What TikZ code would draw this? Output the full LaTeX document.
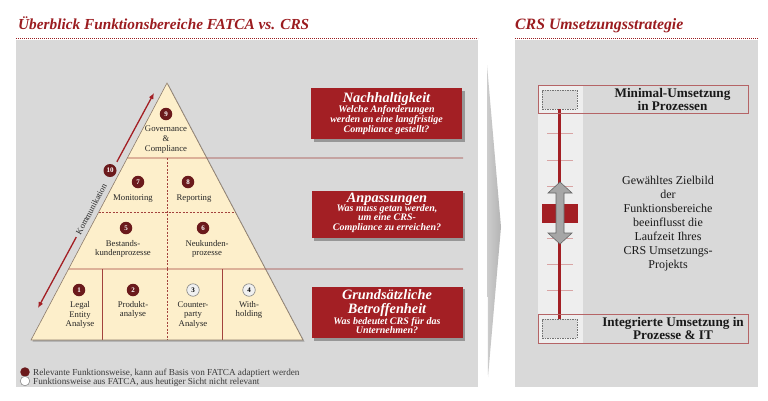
\documentclass[tikz,border=0pt]{standalone}
\usepackage{fontspec}
\setmainfont{Liberation Serif}
\usetikzlibrary{shadows,calc,arrows.meta}
\definecolor{pwcred}{HTML}{A31F24}
\definecolor{titlered}{HTML}{9B1C20}
\definecolor{panelgray}{HTML}{D9D9D9}
\definecolor{cream}{HTML}{FDEFCB}
\definecolor{maroon}{HTML}{6B1A1C}
\definecolor{tierline}{HTML}{A3423D}
\definecolor{stripgray}{HTML}{EEEEEE}
\definecolor{tickpink}{HTML}{D8A4A4}
\definecolor{pyredge}{HTML}{8C7B6B}
\definecolor{legendtext}{HTML}{3A3A3A}
\definecolor{boxedge}{HTML}{B56466}
\definecolor{chevL}{HTML}{CDCDCD}
\definecolor{chevR}{HTML}{B4B4B4}
\begin{document}
\begin{tikzpicture}[x=1pt,y=-1pt,
  num/.style={circle, fill=maroon, text=white, inner sep=0pt, minimum size=12.5pt, font=\fontsize{7}{7}\selectfont\bfseries},
  numw/.style={circle, fill=white!94!black, draw=gray, line width=0.6pt, text=black, inner sep=0pt, minimum size=12.5pt, font=\fontsize{7}{7}\selectfont\bfseries},
  plabel/.style={align=center, font=\fontsize{8.7}{9.6}\selectfont, text=black!85, inner sep=0pt},
  redbox/.style={fill=pwcred, minimum width=151pt, inner sep=0pt, drop shadow={shadow xshift=2.5pt, shadow yshift=-2.5pt, fill=black, opacity=0.3}},
  boxhead/.style={font=\fontsize{14.3}{15}\selectfont\bfseries\itshape, text=white, anchor=base, inner sep=0pt},
  boxbody/.style={font=\fontsize{10}{10}\selectfont\bfseries\itshape, text=white, anchor=base, inner sep=0pt},
  titletext/.style={anchor=base west, inner sep=0pt, font=\fontsize{15.3}{16}\selectfont\bfseries\itshape, text=titlered},
  titledots/.style={titlered, line width=0.8pt, dash pattern=on 0.8pt off 1.2pt},
  tier/.style={tierline, line width=0.7pt},
  tierdash/.style={tierline, line width=0.7pt, dash pattern=on 2pt off 1.5pt},
  komm/.style={pwcred, line width=1.3pt, -{Latex[length=6pt,width=5pt]}},
  legtext/.style={anchor=base west, font=\fontsize{9.2}{9.2}\selectfont, text=legendtext, inner sep=0pt},
  optbox/.style={draw=boxedge, line width=0.7pt, minimum width=210pt, inner sep=0pt},
  dashrect/.style={draw=black!55, dash pattern=on 1.5pt off 1pt, line width=0.5pt, fill=panelgray, minimum width=35pt, minimum height=19pt, inner sep=0pt},
  opttext/.style={anchor=base, inner sep=0pt, font=\fontsize{13.2}{14}\selectfont\bfseries, text=black!90}
]
\useasboundingbox (0,0) rectangle (768,400);
\fill[white] (0,0) rectangle (768,400);

% ---------- left panel ----------
\node[titletext] (title1) at (18,29.5) {Überblick Funktionsbereiche FATCA vs. CRS};
\draw[titledots] (16,38) -- (478,38);
\fill[panelgray] (16,40) rectangle (478,387);

% pyramid
\coordinate (apex) at (167,83);
\coordinate (bl) at (31,340);
\coordinate (br) at (303,340);
\fill[cream, drop shadow={shadow xshift=1.5pt, shadow yshift=-1.5pt, fill=black, opacity=0.25}] (apex) -- (br) -- (bl) -- cycle;

\coordinate (t1l) at ($(apex)!0.2918!(bl)$);
\coordinate (t1r) at (463,158);
\coordinate (t2l) at ($(apex)!0.502!(bl)$);
\coordinate (t2r) at ($(apex)!0.502!(br)$);
\coordinate (t3l) at ($(apex)!0.7237!(bl)$);
\coordinate (t3r) at (463,269);
\draw[tier] (t1l) -- (t1r);
\draw[tierdash] (t2l) -- (t2r);
\draw[tier] (t3l) -- (t3r);
\draw[tierdash] (167,158) -- (167,269);
\draw[tier] (102,269) -- (102,340);
\draw[tierdash] (167,269) -- (167,340);
\draw[tier] (222,269) -- (222,340);
\draw[pyredge, line width=0.6pt] (apex) -- (br) -- (bl) -- cycle;

% numbers and labels
\node[num] (n9) at (166,114) {9};
\node[plabel] (l9) at (166,139.5) {Governance\\\&\\Compliance};
\node[num] (n7) at (138,182) {7};
\node[plabel] (l7) at (133,199) {Monitoring};
\node[num] (n8) at (188,182) {8};
\node[plabel] (l8) at (194,199) {Reporting};
\node[num] (n5) at (126,228) {5};
\node[plabel] (l5) at (123,249) {Bestands-\\kundenprozesse};
\node[num] (n6) at (203,228) {6};
\node[plabel] (l6) at (207,249) {Neukunden-\\prozesse};
\node[num] (n1) at (79,290) {1};
\node[plabel] (l1) at (80,315) {Legal\\Entity\\Analyse};
\node[num] (n2) at (133,290) {2};
\node[plabel] (l2) at (133,310) {Produkt-\\analyse};
\node[numw] (n3) at (193,290) {3};
\node[plabel] (l3) at (193,315) {Counter-\\party\\Analyse};
\node[numw] (n4) at (249,290) {4};
\node[plabel] (l4) at (249,310) {With-\\holding};

% Kommunikation arrow
\coordinate (ka) at (38,308);
\coordinate (kb) at (154,93);
\draw[komm] ($(ka)!0.33!(kb)$) -- (ka);
\draw[komm] ($(ka)!0.68!(kb)$) -- (kb);
\path (ka) -- node[sloped, pos=0.46, font=\fontsize{8.5}{8.5}\selectfont, text=black!85, inner sep=0pt] (kom) {Kommunikation} (kb);
\node[num, minimum size=13pt] (n10) at (110,170.5) {10};

% red boxes
\node[redbox, minimum height=51pt] (b1) at (386.5,113.5) {};
\node[boxhead] (b1h) at (386.5,102) {Nachhaltigkeit};
\node[boxbody] (b1a) at (386.5,112.3) {Welche Anforderungen};
\node[boxbody] (b1b) at (386.5,122.5) {werden an eine langfristige};
\node[boxbody] (b1c) at (386.5,132.5) {Compliance gestellt?};

\node[redbox, minimum height=47.5pt] (b2) at (387,214.5) {};
\node[boxhead] (b2h) at (387,202.3) {Anpassungen};
\node[boxbody] (b2a) at (387,211.5) {Was muss getan werden,};
\node[boxbody] (b2b) at (387,220.7) {um eine CRS-};
\node[boxbody] (b2c) at (387,230) {Compliance zu erreichen?};

\node[redbox, minimum height=51.5pt] (b3) at (387,312.5) {};
\node[boxhead] (b3h) at (387,299.5) {Grundsätzliche};
\node[boxhead] (b3i) at (387,313.5) {Betroffenheit};
\node[boxbody] (b3a) at (387,324.5) {Was bedeutet CRS für das};
\node[boxbody] (b3b) at (387,333.5) {Unternehmen?};

% legend
\node[circle, fill=maroon, minimum size=9.5pt, inner sep=0pt] (lg1) at (25,372) {};
\node[circle, fill=white, draw=gray, line width=0.5pt, minimum size=9.5pt, inner sep=0pt] (lg2) at (25,381) {};
\node[legtext] (lt1) at (33,375.3) {Relevante Funktionsweise, kann auf Basis von FATCA adaptiert werden};
\node[legtext] (lt2) at (33,384.3) {Funktionsweise aus FATCA, aus heutiger Sicht nicht relevant};

% chevron
\shade[left color=chevL, right color=chevR] (487,65) -- (501,227) -- (488,377) -- cycle;

% ---------- right panel ----------
\node[titletext, font=\fontsize{15.8}{16}\selectfont\bfseries\itshape] (title2) at (515,29.5) {CRS Umsetzungsstrategie};
\draw[titledots] (515,38) -- (758,38);
\fill[panelgray] (515,40) rectangle (758,387);
\fill[stripgray] (538,85) rectangle (583,343);
\foreach \yy in {133.5,160,186,212,238,264,290.5}
  \draw[tickpink, line width=0.8pt] (547,\yy) -- (573,\yy);

\node[dashrect] (dr1) at (559.5,99.5) {};
\node[dashrect] (dr2) at (559.5,328.5) {};
\draw[pwcred, line width=2.6pt] (dr1.south) -- (dr2.north);
\node[fill=pwcred, minimum width=36pt, minimum height=19pt, inner sep=0pt] (blk) at (560,213.5) {};
\filldraw[fill=black!35, draw=black!60, line width=0.6pt]
  (560,182) -- (572,193) -- (564,193) -- (564,233) -- (572,233) -- (560,244)
  -- (548,233) -- (556,233) -- (556,193) -- (548,193) -- cycle;

\node[optbox, minimum height=28pt] (ob1) at (643,99) {};
\node[optbox, minimum height=29pt] (ob2) at (643,328.5) {};
\node[opttext] (o1a) at (672.5,97.3) {Minimal-Umsetzung};
\node[opttext] (o1b) at (672.5,110.5) {in Prozessen};
\node[opttext] (o2a) at (673,326) {Integrierte Umsetzung in};
\node[opttext] (o2b) at (673,339.3) {Prozesse \& IT};

\node[align=center, inner sep=0pt, font=\fontsize{12}{14}\selectfont, text=black!90] (ziel) at (668,224)
  {Gewähltes Zielbild\\der\\Funktionsbereiche\\beeinflusst die\\Laufzeit Ihres\\CRS Umsetzungs-\\Projekts};
\end{tikzpicture}
\end{document}
